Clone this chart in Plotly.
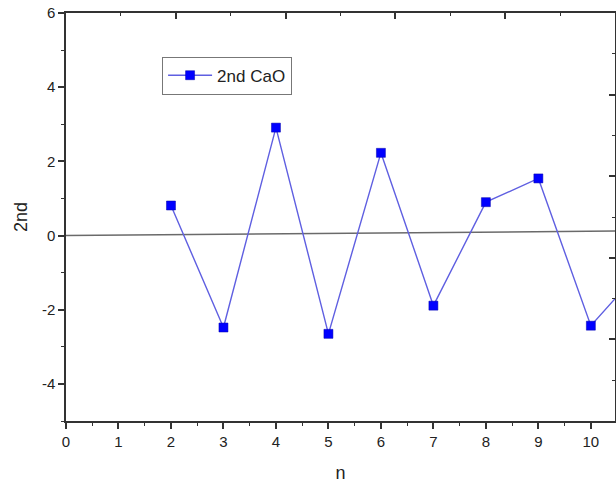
import plotly.graph_objects as go

# Data
n_values = [2, 3, 4, 5, 6, 7, 8, 9, 10, 11]
cao_2nd = [0.81, -2.48, 2.91, -2.65, 2.23, -1.89, 0.90, 1.54, -2.43, -0.85]
series_name = "2nd CaO"

# Reference (baseline) line endpoints
ref_x = [0, 10.46]
ref_y = [0, 0.12]

x_range = [0, 10.46]
y_range = [-5, 6]
y_tickvals = [-4, -2, 0, 2, 4, 6]
y_ticktext = ["-4", "-2", "0", "2", "4", "6"]
x_tickvals = [0, 1, 2, 3, 4, 5, 6, 7, 8, 9, 10]
x_ticktext = ["0", "1", "2", "3", "4", "5", "6", "7", "8", "9", "10"]

FONT = "Liberation Sans, Arial, sans-serif"
AX = "#333333"
TXT = "#222222"

fig = go.Figure()

fig.add_trace(go.Scatter(
    x=ref_x, y=ref_y, mode="lines",
    line=dict(color="#6a6a6a", width=1.5),
    showlegend=False, hoverinfo="skip"))

fig.add_trace(go.Scatter(
    x=n_values, y=cao_2nd, mode="lines+markers", name=series_name,
    line=dict(color="rgb(95,95,225)", width=1.4),
    marker=dict(symbol="square", size=9, color="#0000ff",
                line=dict(color="#0000aa", width=0.5)),
    cliponaxis=True))

# invisible trace for the mirrored (top/right) axes
fig.add_trace(go.Scatter(x=[], y=[], xaxis="x2", yaxis="y2",
                         showlegend=False, hoverinfo="skip"))

common = dict(showgrid=False, zeroline=False, showline=True,
              linecolor=AX, linewidth=1.5, tickcolor=AX, tickwidth=1.5)

fig.update_layout(
    width=616, height=487,
    margin=dict(l=66, r=1, t=13, b=66),
    paper_bgcolor="white", plot_bgcolor="white",
    font=dict(family=FONT, color=TXT),
    showlegend=True,
    legend=dict(x=0.175, y=0.893, xanchor="left", yanchor="top",
                bgcolor="white", bordercolor="#777777", borderwidth=1,
                font=dict(size=17, family=FONT, color=TXT),
                itemwidth=44, tracegroupgap=0),
    xaxis=dict(range=x_range, ticks="outside", ticklen=6,
               tickvals=x_tickvals, ticktext=x_ticktext,
               minor=dict(dtick=0.5, tick0=0, ticklen=3, ticks="outside", tickcolor=AX, tickwidth=1.2),
               tickfont=dict(size=15, family=FONT, color=TXT),
               title=dict(text="n", font=dict(size=18, family=FONT, color=TXT), standoff=18),
               **common),
    yaxis=dict(range=y_range, ticks="outside", ticklen=6,
               tickvals=y_tickvals, ticktext=y_ticktext,
               minor=dict(dtick=1, tick0=0, ticklen=3, ticks="outside", tickcolor=AX, tickwidth=1.2),
               tickfont=dict(size=15, family=FONT, color=TXT),
               title=dict(text="2nd", font=dict(size=18, family=FONT, color=TXT), standoff=10),
               **common),
    xaxis2=dict(overlaying="x", side="top", anchor="y", range=[0, 5], dtick=1,
                ticks="inside", ticklen=6, showticklabels=False,
                minor=dict(dtick=0.5, ticklen=3, ticks="inside", tickcolor=AX, tickwidth=1.2),
                **common),
    yaxis2=dict(overlaying="y", side="right", anchor="x", range=[0, 5], dtick=1,
                ticks="inside", ticklen=6, showticklabels=False,
                minor=dict(dtick=0.5, ticklen=3, ticks="inside", tickcolor=AX, tickwidth=1.2),
                **common),
)

fig.write_html("out.html")
